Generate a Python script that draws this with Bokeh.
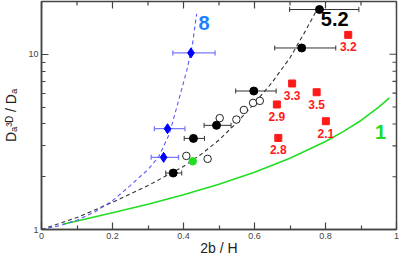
import math
from bokeh.plotting import figure
from bokeh.models import (ColumnDataSource, Whisker, TeeHead, FixedTicker, Range1d)
from bokeh.embed import file_html
from bokeh.resources import INLINE
from bokeh.core.properties import value

# ---------------- data ----------------
x_ticks = [0, 0.2, 0.4, 0.6, 0.8, 1.0]
x_tick_labels = ["0", "0.2", "0.4", "0.6", "0.8", "1"]
x_minor = [0.1, 0.3, 0.5, 0.7, 0.9]
y_ticks = [1, 10]
y_tick_labels = ["1", "10"]
y_minor = [2, 3, 4, 5, 6, 7, 8, 9, 20]
x_title = "2b / H"
y_title = "D\u2090\u00b3\u1d30 / D\u2090"

# black filled points with horizontal error bars
black_x = [0.371, 0.428, 0.493, 0.598, 0.733, 0.783]
black_y = [2.10, 3.31, 3.93, 6.17, 10.86, 18.0]
black_lo = [0.350, 0.402, 0.458, 0.547, 0.657, 0.699]
black_hi = [0.395, 0.459, 0.534, 0.661, 0.829, 0.894]

# blue diamonds with horizontal error bars
blue_x = [0.344, 0.355, 0.421]
blue_y = [2.58, 3.76, 10.18]
blue_lo = [0.309, 0.318, 0.370]
blue_hi = [0.386, 0.404, 0.489]

# open circles
open_x = [0.408, 0.468, 0.502, 0.549, 0.570, 0.596, 0.615]
open_y = [2.63, 2.53, 4.32, 4.24, 4.81, 5.28, 5.42]

# green point
green_x = [0.426]
green_y = [2.45]

# red squares with labels
red_x = [0.706, 0.775, 0.663, 0.801, 0.667, 0.864]
red_y = [6.81, 6.07, 5.17, 4.15, 3.33, 12.9]
red_labels = ["3.3", "3.5", "2.9", "2.1", "2.8", "3.2"]

# curves
curve8_x = [0, 0.05, 0.10, 0.15, 0.20, 0.25, 0.30, 0.33, 0.36, 0.39, 0.41, 0.425, 0.437]
curve8_y = [1.0, 1.05, 1.13, 1.26, 1.46, 1.78, 2.2, 2.6, 3.5, 5.8, 8.2, 11.3, 17.0]

curve52_x = [0, 0.1, 0.2, 0.3, 0.4, 0.45, 0.5, 0.55, 0.6, 0.65, 0.7, 0.74, 0.78]
curve52_y = [1.0, 1.17, 1.43, 1.78, 2.29, 2.69, 3.24, 4.07, 5.25, 6.92, 9.55, 13.2, 18.6]

curve1_x = [0.06, 0.1, 0.2, 0.3, 0.4, 0.5, 0.6, 0.7, 0.8, 0.85, 0.9, 0.95, 0.98]
curve1_y = [1.071, 1.118, 1.245, 1.395, 1.58, 1.814, 2.122, 2.547, 3.175, 3.62, 4.19, 4.99, 5.63]

# curve labels
curve_labels = ["8", "5.2", "1"]
curve_label_x = [0.458, 0.826, 0.955]
curve_label_y = [15.0, 15.9, 3.61]
curve_label_colors = ["#1e7fff", "#000000", "#22dd22"]

# ---------------- figure ----------------
FONT = "Liberation Sans"
AX = "#444444"
X0, X1 = 0, 1
Y0, Y1 = 1, 20
p = figure(width=400, height=258, x_range=Range1d(X0, X1), y_range=Range1d(Y0, Y1),
           y_axis_type="log", output_backend="svg", toolbar_location=None,
           min_border_left=33, min_border_right=4, min_border_top=1, min_border_bottom=0)
p.grid.visible = False
p.outline_line_color = AX
p.outline_line_width = 1.5
p.background_fill_color = "white"
p.border_fill_color = "white"

def style_axis(ax, ticks, minor, labels, title):
    ax.ticker = FixedTicker(ticks=ticks, minor_ticks=minor)
    ax.major_tick_in = 7
    ax.major_tick_out = 0
    ax.minor_tick_in = 4
    ax.minor_tick_out = 0
    ax.axis_line_color = AX
    ax.axis_line_width = 1.5
    ax.major_tick_line_color = AX
    ax.minor_tick_line_color = AX
    ax.major_tick_line_width = 1.2
    ax.minor_tick_line_width = 1.2
    ax.major_label_text_font = FONT
    ax.major_label_text_color = "#444444"
    ax.major_label_text_font_size = "9px"
    ax.major_label_standoff = 3
    ax.major_label_overrides = dict(zip(ticks, labels))
    ax.axis_label = title
    ax.axis_label_text_font = FONT
    ax.axis_label_text_font_size = "14px"
    ax.axis_label_text_font_style = "normal"
    ax.axis_label_text_color = "#222222"
    ax.axis_label_standoff = 2

style_axis(p.xaxis[0], x_ticks, x_minor, x_tick_labels, x_title)
style_axis(p.yaxis[0], y_ticks, y_minor, y_tick_labels, y_title)
p.yaxis[0].axis_label_standoff = 6
p.xaxis[0].major_label_standoff = 3
p.xaxis[0].axis_label_standoff = -2
p.xaxis[0].axis_label_text_line_height = 0.8

# mirrored inward ticks on the top and right edges (half of each dash is clipped by the frame)
p.scatter(x_ticks, [Y1] * len(x_ticks), marker="dash", angle=math.pi / 2, size=14,
          line_color=AX, line_width=1.2)
p.scatter(x_minor, [Y1] * len(x_minor), marker="dash", angle=math.pi / 2, size=8,
          line_color=AX, line_width=1.2)
p.scatter([X1] * len(y_ticks), y_ticks, marker="dash", size=14, line_color=AX, line_width=1.2)
p.scatter([X1] * len(y_minor), y_minor, marker="dash", size=8, line_color=AX, line_width=1.2)

# curves
p.line(curve1_x, curve1_y, line_color="#22dd22", line_width=1.6)
p.line(curve52_x, curve52_y, line_color="#333333", line_width=1.1, line_dash="4 3")
p.line(curve8_x, curve8_y, line_color="#5a5aff", line_width=1.1, line_dash="4 3")

# error bars
bsrc = ColumnDataSource(dict(y=black_y, lo=black_lo, hi=black_hi))
p.add_layout(Whisker(source=bsrc, base="y", lower="lo", upper="hi", dimension="width",
                     line_color="#333333", line_width=1,
                     upper_head=TeeHead(size=5, line_color="#333333", line_width=1),
                     lower_head=TeeHead(size=5, line_color="#333333", line_width=1)))
usrc = ColumnDataSource(dict(y=blue_y, lo=blue_lo, hi=blue_hi))
p.add_layout(Whisker(source=usrc, base="y", lower="lo", upper="hi", dimension="width",
                     line_color="#7a7aff", line_width=1.3,
                     upper_head=TeeHead(size=5, line_color="#7a7aff", line_width=1.3),
                     lower_head=TeeHead(size=5, line_color="#7a7aff", line_width=1.3)))

# markers
p.scatter(open_x, open_y, marker="circle", size=7.5, fill_color="white",
          line_color="#222222", line_width=1)
p.scatter(black_x, black_y, marker="circle", size=8, fill_color="black", line_color="black")
p.scatter(green_x, green_y, marker="circle", size=7.5, fill_color="#22dd22", line_color="#22dd22")
p.scatter(blue_x, blue_y, marker="diamond", size=10, fill_color="#0000ff", line_color="#0000ff")
p.scatter(red_x, red_y, marker="square", size=7, fill_color="#ff1a1a", line_color="#ff1a1a")

rsrc = ColumnDataSource(dict(x=red_x, y=red_y, t=red_labels))
p.text(x="x", y="y", text="t", source=rsrc, text_font=value(FONT), text_font_style="bold",
       text_font_size="12px", text_color="#ff1a1a", text_align="center",
       text_baseline="middle", y_offset=12)

lsrc = ColumnDataSource(dict(x=curve_label_x, y=curve_label_y, t=curve_labels, c=curve_label_colors))
p.text(x="x", y="y", text="t", source=lsrc, text_font=value(FONT), text_font_style="bold",
       text_font_size="20px", text_color="c", text_align="center", text_baseline="middle")

open("out.html", "w").write(file_html(p, INLINE))
